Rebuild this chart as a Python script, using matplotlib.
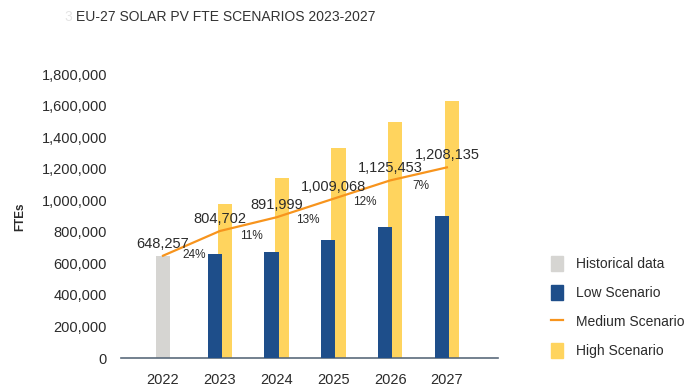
import matplotlib.pyplot as plt
import numpy as np
from matplotlib.patches import Patch
from matplotlib.lines import Line2D

years = ['2022', '2023', '2024', '2025', '2026', '2027']
historical = [648257, 0, 0, 0, 0, 0]
low = [0, 662000, 675000, 745000, 828000, 898000]
medium = [648257, 804702, 891999, 1009068, 1125453, 1208135]
high = [0, 975000, 1140000, 1331000, 1497000, 1630000]
growth = ['24%', '11%', '13%', '12%', '7%']

c_hist = '#D6D5D2'
c_low = '#1E4E8A'
c_med = '#F7941D'
c_high = '#FFD45E'
c_text = '#2B2B2B'

plt.rcParams['font.family'] = ['Liberation Sans', 'DejaVu Sans']

fig = plt.figure(figsize=(6.93, 3.90), dpi=100)
ax = fig.add_axes([121/693, 1-358/390, (498-121)/693, (358-74)/390])

x = np.arange(len(years))
w = 0.25
off = 0.09
ax.bar(x[0], historical[0], w, color=c_hist, zorder=2)
ax.bar(x[1:] + off, high[1:], w, color=c_high, zorder=2)
ax.bar(x[1:] - off, low[1:], w, color=c_low, zorder=3)
ax.plot(x, medium, color=c_med, linewidth=1.6, zorder=4)

for i, v in enumerate(medium):
    ax.annotate(f'{v:,}', (x[i], v), xytext=(0, 12), textcoords='offset pixels',
                ha='center', va='center', fontsize=10.5, color=c_text, zorder=5)
for i, g in enumerate(growth):
    mid = (medium[i] + medium[i+1]) / 2
    ax.annotate(g, (x[i] + 0.55, mid), xytext=(0, -12), textcoords='offset pixels',
                ha='center', va='center', fontsize=8.5, color=c_text, zorder=5)

ax.set_xlim(-0.74, 5.9)
ax.set_ylim(0, 1800000)
ax.set_yticks(np.arange(0, 1800001, 200000))
ax.yaxis.set_major_formatter(plt.FuncFormatter(lambda v, p: f'{int(v):,}'))
ax.set_xticks(x)
ax.set_xticklabels(years)
ax.tick_params(axis='y', length=0, pad=10, labelsize=10.5, labelcolor=c_text)
ax.tick_params(axis='x', length=0, pad=11, labelsize=10.5, labelcolor=c_text)
for s in ['top', 'right', 'left']:
    ax.spines[s].set_visible(False)
ax.spines['bottom'].set_color('#5B6B7C')
ax.spines['bottom'].set_linewidth(1.2)

fig.text(20/693, 1-217/390, 'FTEs', rotation=90, ha='center', va='center',
         fontsize=8.5, fontweight='bold', color=c_text)
fig.text(76/693, 1-17/390, 'EU-27 SOLAR PV FTE SCENARIOS 2023-2027', ha='left', va='center',
         fontsize=10, color='#333333')
fig.text(64/693, 1-17/390, '3', ha='left', va='center', fontsize=10, color='#E4E4E4')

handles = [Patch(color=c_hist), Patch(color=c_low),
           Line2D([0], [0], color=c_med, linewidth=1.6), Patch(color=c_high)]
labels = ['Historical data', 'Low Scenario', 'Medium Scenario', 'High Scenario']
fig.legend(handles, labels, loc='center left', bbox_to_anchor=(538/693, 1-307/390),
           frameon=False, fontsize=10, labelcolor=c_text, handlelength=0.9,
           handleheight=1.3, handletextpad=0.9, labelspacing=1.0)

fig.savefig('out.png', dpi=100)
